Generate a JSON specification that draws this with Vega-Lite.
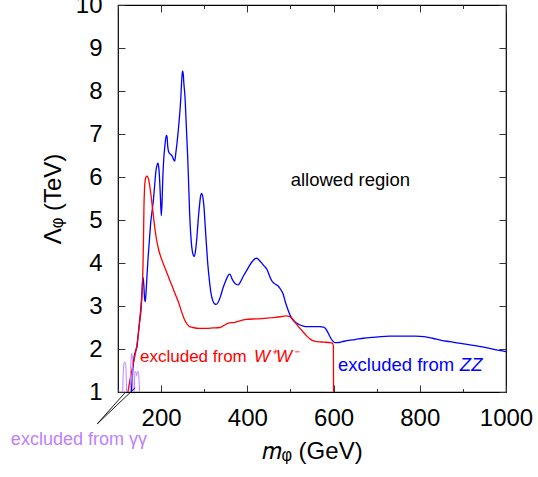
{
  "$schema": "https://vega.github.io/schema/vega-lite/v6.json",
  "width": 388,
  "height": 387,
  "autosize": {"type": "none"},
  "padding": {"left": 118, "top": 5, "right": 32, "bottom": 85},
  "background": "white",
  "config": {
    "font": "Liberation Sans",
    "view": {"stroke": "black", "strokeWidth": 1.2},
    "axis": {
      "domain": false,
      "grid": false,
      "labelFont": "Liberation Sans",
      "labelFontSize": 24,
      "labelColor": "black",
      "titleFont": "Liberation Sans",
      "titleFontSize": 24,
      "titleFontWeight": "normal",
      "titleColor": "black",
      "tickColor": "#333",
      "tickWidth": 1,
      "labelFlush": false,
      "labelOverlap": false
    }
  },
  "datasets": {
    "zz": [
      {"m":131,"L":1.0},{"m":133,"L":1.3},{"m":135,"L":1.6},{"m":137.5,"L":1.82},{"m":140.5,"L":1.95},{"m":144,"L":2.05},{"m":147,"L":2.35},{"m":150,"L":2.65},{"m":153,"L":2.95},{"m":155.5,"L":3.3},{"m":157,"L":3.58},{"m":158.3,"L":3.66},{"m":159.8,"L":3.5},{"m":161.5,"L":3.2},{"m":163.2,"L":3.1},{"m":165,"L":3.3},{"m":167.5,"L":3.75},{"m":170,"L":4.15},{"m":173,"L":4.55},{"m":176,"L":4.95},{"m":179,"L":5.2},{"m":182,"L":5.45},{"m":185,"L":5.8},{"m":187.5,"L":6.1},{"m":190,"L":6.26},{"m":192.6,"L":6.32},{"m":194.8,"L":6.2},{"m":196.5,"L":5.95},{"m":198.5,"L":5.5},{"m":200.5,"L":5.1},{"m":202.5,"L":5.5},{"m":204,"L":6.0},{"m":206,"L":6.4},{"m":209,"L":6.75},{"m":212,"L":6.97},{"m":213.5,"L":6.95},{"m":215.5,"L":6.7},{"m":218,"L":6.57},{"m":222,"L":6.53},{"m":226,"L":6.48},{"m":229,"L":6.4},{"m":231.5,"L":6.37},{"m":234,"L":6.55},{"m":237,"L":6.8},{"m":240,"L":7.1},{"m":243,"L":7.45},{"m":245.5,"L":7.8},{"m":247.5,"L":8.2},{"m":249.5,"L":8.47},{"m":251,"L":8.42},{"m":253,"L":8.15},{"m":255.5,"L":7.85},{"m":257.5,"L":7.4},{"m":259.5,"L":6.95},{"m":261.5,"L":6.5},{"m":263.5,"L":5.95},{"m":266,"L":5.2},{"m":268.5,"L":4.7},{"m":271,"L":4.38},{"m":274,"L":4.2},{"m":277,"L":4.15},{"m":280,"L":4.3},{"m":283,"L":4.6},{"m":286,"L":5.0},{"m":289,"L":5.33},{"m":291.5,"L":5.55},{"m":294,"L":5.62},{"m":296.5,"L":5.55},{"m":299.5,"L":5.3},{"m":302,"L":4.9},{"m":305,"L":4.45},{"m":308.5,"L":3.95},{"m":312.5,"L":3.55},{"m":316,"L":3.28},{"m":320,"L":3.12},{"m":324,"L":3.05},{"m":328,"L":3.04},{"m":333,"L":3.1},{"m":338,"L":3.23},{"m":343,"L":3.4},{"m":348,"L":3.54},{"m":353,"L":3.66},{"m":358,"L":3.74},{"m":361,"L":3.72},{"m":365,"L":3.62},{"m":370,"L":3.54},{"m":375,"L":3.5},{"m":379,"L":3.49},{"m":384,"L":3.56},{"m":390,"L":3.68},{"m":397,"L":3.8},{"m":405,"L":3.94},{"m":412,"L":4.04},{"m":418,"L":4.1},{"m":422,"L":4.11},{"m":428,"L":4.06},{"m":434,"L":3.99},{"m":440,"L":3.92},{"m":445,"L":3.86},{"m":450,"L":3.74},{"m":456,"L":3.6},{"m":463,"L":3.52},{"m":471,"L":3.47},{"m":477,"L":3.39},{"m":483,"L":3.28},{"m":488,"L":3.1},{"m":494,"L":2.92},{"m":500,"L":2.77},{"m":506,"L":2.67},{"m":513,"L":2.61},{"m":520,"L":2.57},{"m":528,"L":2.54},{"m":540,"L":2.52},{"m":555,"L":2.52},{"m":568,"L":2.52},{"m":577,"L":2.51},{"m":582,"L":2.47},{"m":587,"L":2.38},{"m":592,"L":2.28},{"m":597,"L":2.2},{"m":603,"L":2.15},{"m":610,"L":2.15},{"m":620,"L":2.17},{"m":635,"L":2.2},{"m":650,"L":2.22},{"m":670,"L":2.25},{"m":690,"L":2.27},{"m":710,"L":2.29},{"m":730,"L":2.3},{"m":750,"L":2.3},{"m":770,"L":2.3},{"m":790,"L":2.3},{"m":810,"L":2.29},{"m":830,"L":2.25},{"m":850,"L":2.2},{"m":870,"L":2.17},{"m":895,"L":2.13},{"m":920,"L":2.09},{"m":945,"L":2.05},{"m":972,"L":1.99},{"m":1000,"L":1.94}
    ],
    "ww": [
      {"m":123,"L":1.0},{"m":132,"L":1.5},{"m":138,"L":1.78},{"m":142,"L":1.98},{"m":146,"L":2.25},{"m":150,"L":2.6},{"m":154,"L":2.98},{"m":156.5,"L":3.45},{"m":158,"L":3.95},{"m":159.2,"L":4.6},{"m":160.2,"L":5.3},{"m":161.5,"L":5.72},{"m":163,"L":5.92},{"m":165,"L":6.0},{"m":167,"L":6.02},{"m":169,"L":6.0},{"m":171.5,"L":5.92},{"m":174,"L":5.77},{"m":177,"L":5.54},{"m":180,"L":5.28},{"m":183,"L":5.02},{"m":186,"L":4.77},{"m":189,"L":4.57},{"m":194,"L":4.32},{"m":200,"L":4.12},{"m":206,"L":3.96},{"m":212,"L":3.81},{"m":220,"L":3.6},{"m":228,"L":3.4},{"m":235,"L":3.22},{"m":242,"L":3.04},{"m":247,"L":2.88},{"m":252,"L":2.74},{"m":258,"L":2.61},{"m":265,"L":2.53},{"m":274,"L":2.5},{"m":290,"L":2.48},{"m":305,"L":2.48},{"m":320,"L":2.49},{"m":336,"L":2.5},{"m":346,"L":2.55},{"m":356,"L":2.6},{"m":371,"L":2.62},{"m":385,"L":2.66},{"m":398,"L":2.69},{"m":420,"L":2.7},{"m":440,"L":2.71},{"m":458,"L":2.73},{"m":476,"L":2.75},{"m":490,"L":2.77},{"m":497,"L":2.76},{"m":503,"L":2.72},{"m":508,"L":2.66},{"m":514,"L":2.58},{"m":522,"L":2.48},{"m":530,"L":2.39},{"m":538,"L":2.3},{"m":546,"L":2.23},{"m":554,"L":2.19},{"m":563,"L":2.17},{"m":577,"L":2.16},{"m":592,"L":2.15},{"m":598,"L":2.13},{"m":599.6,"L":2.05},{"m":600,"L":1.0}
    ],
    "gg": [
      {"g":"a","m":111,"L":1.0},{"g":"a","m":111.7,"L":1.3},{"g":"a","m":113,"L":1.58},{"g":"a","m":115,"L":1.7},{"g":"a","m":117,"L":1.68},{"g":"a","m":118.8,"L":1.45},{"g":"a","m":120,"L":1.0},
      {"g":"b","m":128.5,"L":1.0},{"g":"b","m":129.3,"L":1.4},{"g":"b","m":130.5,"L":1.78},{"g":"b","m":132,"L":1.9},{"g":"b","m":133.3,"L":1.75},{"g":"b","m":134.2,"L":1.35},{"g":"b","m":134.8,"L":1.0},
      {"g":"c","m":137.5,"L":1.0},{"g":"c","m":138.5,"L":1.3},{"g":"c","m":140,"L":1.48},{"g":"c","m":142,"L":1.45},{"g":"c","m":143.5,"L":1.38},{"g":"c","m":145,"L":1.47},{"g":"c","m":147,"L":1.48},{"g":"c","m":148.8,"L":1.3},{"g":"c","m":149.8,"L":1.0}
    ],
    "pointer": [
      {"g":"1","m":52,"L":0.26},{"g":"1","m":116,"L":0.98},
      {"g":"2","m":52,"L":0.26},{"g":"2","m":140,"L":1.1}
    ],
    "labels": [
      {"id":"allowed","m":639,"L":5.93,"text":"allowed region"},
      {"id":"ww1","m":151,"L":1.82,"text":"excluded from"},
      {"id":"ww2","m":415.5,"L":1.82,"text":"W⁺W⁻"},
      {"id":"zz1","m":610.3,"L":1.63,"text":"excluded from"},
      {"id":"zz2","m":893,"L":1.63,"text":"ZZ"},
      {"id":"gg","m":9.3,"L":-0.12,"text":"excluded from γγ"}
    ]
  },
  "layer": [
    {
      "data": {"name": "zz"},
      "mark": {"type": "line", "color": "#0000ff", "strokeWidth": 1.3, "interpolate": "monotone"},
      "encoding": {
        "x": {"field": "m", "type": "quantitative", "scale": {"domain": [100, 1000], "nice": false, "zero": false},
              "axis": {"orient": "bottom", "values": [200, 400, 600, 800, 1000], "format": "d", "tickSize": -7, "labelPadding": 21, "title": "𝑚ᵩ (GeV)", "titlePadding": 9}},
        "y": {"field": "L", "type": "quantitative", "scale": {"domain": [1, 10], "nice": false, "zero": false},
              "axis": {"orient": "left", "values": [1, 2, 3, 4, 5, 6, 7, 8, 9, 10], "format": "d", "tickSize": -7, "labelPadding": 23, "title": "Λᵩ (TeV)", "titlePadding": 10}}
      }
    },
    {
      "data": {"name": "ww"},
      "mark": {"type": "line", "color": "#ff0000", "strokeWidth": 1.3, "interpolate": "monotone"},
      "encoding": {
        "x": {"field": "m", "type": "quantitative",
              "axis": {"orient": "bottom", "values": [100, 300, 500, 700, 900], "tickSize": -3.5, "labels": false, "title": null}},
        "y": {"field": "L", "type": "quantitative",
              "axis": {"orient": "right", "values": [1, 2, 3, 4, 5, 6, 7, 8, 9, 10], "tickSize": -7, "labels": false, "title": null}}
      }
    },
    {
      "data": {"name": "gg"},
      "mark": {"type": "line", "color": "#bf80ff", "strokeWidth": 1, "interpolate": "monotone"},
      "encoding": {
        "x": {"field": "m", "type": "quantitative",
              "axis": {"orient": "top", "values": [200, 400, 600, 800, 1000], "tickSize": -7, "labels": false, "title": null}},
        "y": {"field": "L", "type": "quantitative", "axis": null},
        "detail": {"field": "g"}
      }
    },
    {
      "data": {"name": "pointer"},
      "mark": {"type": "line", "color": "black", "strokeWidth": 0.9},
      "encoding": {
        "x": {"field": "m", "type": "quantitative",
              "axis": {"orient": "top", "values": [100, 300, 500, 700, 900], "tickSize": -3.5, "labels": false, "title": null}},
        "y": {"field": "L", "type": "quantitative", "axis": null},
        "detail": {"field": "g"}
      }
    },
    {
      "data": {"name": "labels"},
      "transform": [{"filter": "datum.id == 'allowed'"}],
      "mark": {"type": "text", "font": "Liberation Sans", "fontSize": 18.5, "align": "center", "baseline": "middle", "color": "black"},
      "encoding": {
        "x": {"field": "m", "type": "quantitative", "axis": null},
        "y": {"field": "L", "type": "quantitative", "axis": null},
        "text": {"field": "text"}
      }
    },
    {
      "data": {"name": "labels"},
      "transform": [{"filter": "datum.id == 'ww1'"}],
      "mark": {"type": "text", "font": "Liberation Sans", "fontSize": 17, "align": "left", "baseline": "middle", "color": "#ff0000"},
      "encoding": {
        "x": {"field": "m", "type": "quantitative", "axis": null},
        "y": {"field": "L", "type": "quantitative", "axis": null},
        "text": {"field": "text"}
      }
    },
    {
      "data": {"name": "labels"},
      "transform": [{"filter": "datum.id == 'ww2'"}],
      "mark": {"type": "text", "font": "Liberation Sans", "fontSize": 17, "fontStyle": "italic", "align": "left", "baseline": "middle", "color": "#ff0000"},
      "encoding": {
        "x": {"field": "m", "type": "quantitative", "axis": null},
        "y": {"field": "L", "type": "quantitative", "axis": null},
        "text": {"field": "text"}
      }
    },
    {
      "data": {"name": "labels"},
      "transform": [{"filter": "datum.id == 'zz1'"}],
      "mark": {"type": "text", "font": "Liberation Sans", "fontSize": 18.5, "align": "left", "baseline": "middle", "color": "#0000ff"},
      "encoding": {
        "x": {"field": "m", "type": "quantitative", "axis": null},
        "y": {"field": "L", "type": "quantitative", "axis": null},
        "text": {"field": "text"}
      }
    },
    {
      "data": {"name": "labels"},
      "transform": [{"filter": "datum.id == 'zz2'"}],
      "mark": {"type": "text", "font": "Liberation Sans", "fontSize": 18.5, "fontStyle": "italic", "align": "left", "baseline": "middle", "color": "#0000ff"},
      "encoding": {
        "x": {"field": "m", "type": "quantitative", "axis": null},
        "y": {"field": "L", "type": "quantitative", "axis": null},
        "text": {"field": "text"}
      }
    },
    {
      "data": {"name": "labels"},
      "transform": [{"filter": "datum.id == 'gg'"}],
      "mark": {"type": "text", "font": "Liberation Sans", "fontSize": 18, "align": "center", "baseline": "middle", "color": "#bf80ff"},
      "encoding": {
        "x": {"field": "m", "type": "quantitative", "axis": null},
        "y": {"field": "L", "type": "quantitative", "axis": null},
        "text": {"field": "text"}
      }
    }
  ],
  "resolve": {"axis": {"x": "independent", "y": "independent"}}
}
